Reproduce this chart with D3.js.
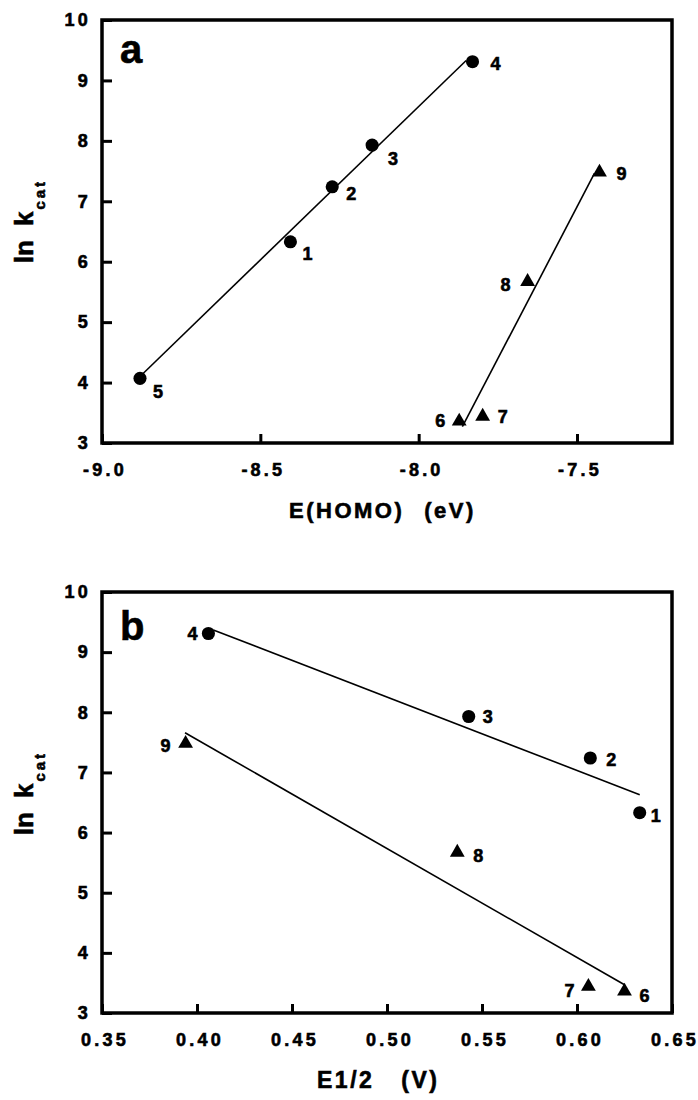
<!DOCTYPE html>
<html>
<head>
<meta charset="utf-8">
<script src="https://cdnjs.cloudflare.com/ajax/libs/d3/7.8.5/d3.min.js"></script>
<style>
    body { margin: 0; background: #fff; }
    text { font-family: "Liberation Sans", Arial, Helvetica, sans-serif; font-weight: bold; fill: #000; stroke: #000; stroke-width: 0.6px; }
</style>
</head>
<body>
<div id="plot"></div>
<script>
"use-strict";

// compounds 1-5 (circles) and 6-9 (triangles)
const circleIds = ["1", "2", "3", "4", "5"];
const circleLnK = [6.33, 7.24, 7.93, 9.31, 4.07];
const circleHomo = [-8.405, -8.273, -8.147, -7.830, -8.880];
const circleE12 = [0.633, 0.607, 0.543, 0.406, null]; // no E1/2 for 5

const triIds = ["6", "7", "8", "9"];
const triLnK = [3.36, 3.44, 5.67, 7.48];
const triHomo = [-7.872, -7.798, -7.656, -7.429];
const triE12 = [0.625, 0.606, 0.537, 0.394];

// fitted lines, [x0, y0, x1, y1]
const fitHomoCircle = [-8.88, 4.10, -7.85, 9.33];
const fitHomoTri = [-7.862, 3.27, -7.445, 7.46];
const fitE12Circle = [0.4086, 9.37, 0.633, 6.63];
const fitE12Tri = [0.3937, 7.66, 0.625, 3.47];

const yTicks = [3, 4, 5, 6, 7, 8, 9, 10];
const xTicksA = [-9.0, -8.5, -8.0, -7.5];
const xTicksB = [0.35, 0.40, 0.45, 0.50, 0.55, 0.60, 0.65];

// label offsets (dx, dy, anchor) per compound, per panel
const labelsA = {
    "1": [12, 18, "start"], "2": [14, 13, "start"], "3": [16, 20, "start"],
    "4": [18, 8, "start"], "5": [13, 20, "start"], "6": [-14, 6, "end"],
    "7": [15, 7, "start"], "8": [-17, 9, "end"], "9": [17, 8, "start"]
};
const labelsB = {
    "1": [11, 9, "start"], "2": [16, 8, "start"], "3": [14, 7, "start"],
    "4": [-11, 7, "end"], "6": [15, 11, "start"], "7": [-14, 10, "end"],
    "8": [16, 10, "start"], "9": [-15, 8, "end"]
};

const msm = {
    width: 698,
    height: 1100,
    left: 102,
    right: 672
};

let svg;

window.onload = function () {
    svg = d3.select("#plot")
        .append("svg")
        .attr("width", msm.width)
        .attr("height", msm.height);

    makePanel({
        top: 20, bottom: 443,
        xDomain: [-9.0, -7.2], xTicks: xTicksA, xFmt: d3.format(".1f"),
        cx: circleHomo, tx: triHomo,
        fitC: fitHomoCircle, fitT: fitHomoTri,
        labels: labelsA, letter: "a", letterY: 63,
        title: ["E(HOMO)", "(eV)"], titleX: 289, titleY: 518, titleGap: 20, titleSize: 22
    });
    makePanel({
        top: 592, bottom: 1013,
        xDomain: [0.35, 0.65], xTicks: xTicksB, xFmt: d3.format(".2f"),
        cx: circleE12, tx: triE12,
        fitC: fitE12Circle, fitT: fitE12Tri,
        labels: labelsB, letter: "b", letterY: 640,
        title: ["E1/2", "(V)"], titleX: 317, titleY: 1088, titleGap: 27, titleSize: 23
    });
}

function makePanel(p) {
    let xScale = d3.scaleLinear().domain(p.xDomain).range([msm.left, msm.right]);
    let yScale = d3.scaleLinear().domain([3, 10]).range([p.bottom, p.top]);
    let g = svg.append("g");

    // y axis, ticks pointing inward
    let yAxis = d3.axisLeft(yScale).tickValues(yTicks).tickSize(-10).tickPadding(11)
        .tickFormat(d3.format("d"));
    let ya = g.append("g")
        .attr("transform", "translate(" + msm.left + ",0)")
        .call(yAxis);
    // x axis, plain hyphen for the minus sign
    let xAxis = d3.axisBottom(xScale).tickValues(p.xTicks).tickSize(-9).tickPadding(20)
        .tickFormat(d => p.xFmt(d).replace("\u2212", "-"));
    let xa = g.append("g")
        .attr("transform", "translate(0," + p.bottom + ")")
        .call(xAxis);

    [ya, xa].forEach(a => {
        a.select(".domain").remove();
        a.selectAll(".tick line").attr("stroke", "#000").attr("stroke-width", 3);
        a.selectAll(".tick text")
            .style("font-size", "18px")
            .style("letter-spacing", "3.2px")
            .attr("fill", "#000");
    });
    xa.selectAll(".tick text").attr("dx", 2.5);

    // frame
    g.append("rect")
        .attr("x", msm.left)
        .attr("y", p.top)
        .attr("width", msm.right - msm.left)
        .attr("height", p.bottom - p.top)
        .attr("fill", "none")
        .attr("stroke", "#000")
        .attr("stroke-width", 3.5);

    // fit lines
    [p.fitC, p.fitT].forEach(f => {
        g.append("line")
            .attr("x1", xScale(f[0])).attr("y1", yScale(f[1]))
            .attr("x2", xScale(f[2])).attr("y2", yScale(f[3]))
            .attr("stroke", "#000")
            .attr("stroke-width", 1.6);
    });

    // points
    let pts = [];
    circleIds.forEach((id, i) => {
        if (p.cx[i] !== null) pts.push({ id: id, x: p.cx[i], y: circleLnK[i], shape: d3.symbolCircle, size: 135 });
    });
    triIds.forEach((id, i) => {
        pts.push({ id: id, x: p.tx[i], y: triLnK[i], shape: d3.symbolTriangle, size: 95 });
    });

    g.append("g")
        .selectAll("path")
        .data(pts)
        .enter()
        .append("path")
        .attr("transform", d => "translate(" + xScale(d.x) + "," + yScale(d.y) + ")")
        .attr("d", d => d3.symbol(d.shape, d.size)())
        .attr("fill", "#000");

    g.append("g")
        .selectAll("text")
        .data(pts)
        .enter()
        .append("text")
        .attr("x", d => xScale(d.x) + p.labels[d.id][0])
        .attr("y", d => yScale(d.y) + p.labels[d.id][1])
        .attr("text-anchor", d => p.labels[d.id][2])
        .style("font-size", "18px")
        .text(d => d.id);

    // panel letter
    g.append("text")
        .attr("x", 120)
        .attr("y", p.letterY)
        .style("font-size", "40px")
        .text(p.letter);

    // y axis title
    let yt = g.append("text")
        .attr("transform", "translate(33," + (p.top + 201) + ") rotate(-90)")
        .attr("text-anchor", "middle")
        .style("font-size", "26px");
    yt.append("tspan").text("ln");
    yt.append("tspan").attr("dx", 14).text("k");
    yt.append("tspan")
        .attr("dy", 12)
        .attr("dx", 2)
        .style("font-size", "15px")
        .style("letter-spacing", "3px")
        .text("cat");

    // x axis title
    let xt = g.append("text")
        .attr("x", p.titleX)
        .attr("y", p.titleY)
        .style("font-size", p.titleSize + "px")
        .style("letter-spacing", "2.5px");
    xt.append("tspan").text(p.title[0]);
    xt.append("tspan").attr("dx", p.titleGap).text(p.title[1]);
}
</script>
</body>
</html>
